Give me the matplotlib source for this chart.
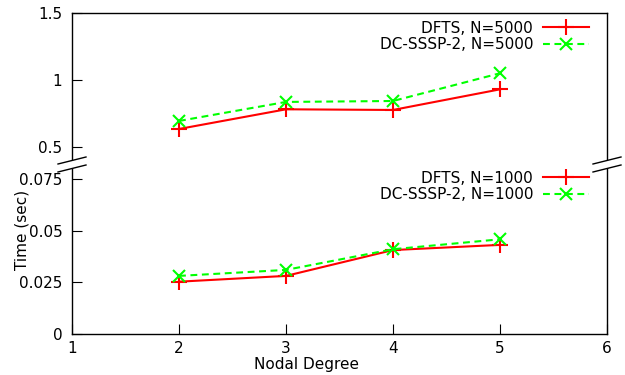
import matplotlib
matplotlib.use("Agg")
import matplotlib.pyplot as plt
from matplotlib.lines import Line2D
from matplotlib.patches import Polygon

plt.rcParams['font.family'] = ['DejaVu Sans']
plt.rcParams['font.size'] = 11

degrees = [2, 3, 4, 5]
dfts_5000 = [0.634, 0.781, 0.776, 0.93]
dcsssp_5000 = [0.694, 0.836, 0.843, 1.05]
dfts_1000 = [0.0253, 0.0281, 0.0406, 0.0431]
dcsssp_1000 = [0.0281, 0.031, 0.041, 0.0458]

x_ticks = [1, 2, 3, 4, 5, 6]
top_yticks = [0.5, 1.0, 1.5]
top_ylabels = ["0.5", "1", "1.5"]
bot_yticks = [0, 0.025, 0.05, 0.075]
bot_ylabels = ["0", "0.025", "0.05", "0.075"]

W, H = 625, 375
fig = plt.figure(figsize=(6.25, 3.75), dpi=100)

def fx(px):
    return px / W

def fy(py):
    return 1 - py / H

L, R = 72, 607
ax_top = fig.add_axes([fx(L), fy(163), fx(R) - fx(L), fy(13) - fy(163)])
ax_bot = fig.add_axes([fx(L), fy(334), fx(R) - fx(L), fy(163) - fy(334)])

red = '#ff0000'
green = '#00ff00'
lw = 1.5
dash = (3.3, 2.2)

def plot_pair(ax, a, b, la, lb):
    ax.plot(degrees, a, color=red, lw=lw, marker='+', ms=11, mew=1.5, label=la)
    ax.plot(degrees, b, color=green, lw=lw, ls=(0, dash), marker='x', ms=9, mew=1.5, label=lb)
    leg = ax.legend(loc='upper right', frameon=False, markerfirst=False,
                    handlelength=3.0, handletextpad=0.65, labelspacing=0.1,
                    borderaxespad=0.0, bbox_to_anchor=(1 - 12 / (R - L), 0.99))
    return leg

plot_pair(ax_top, dfts_5000, dcsssp_5000, 'DFTS, N=5000', 'DC-SSSP-2, N=5000')
plot_pair(ax_bot, dfts_1000, dcsssp_1000, 'DFTS, N=1000', 'DC-SSSP-2, N=1000')

for ax in (ax_top, ax_bot):
    ax.set_xlim(1, 6)
    for s in ax.spines.values():
        s.set_linewidth(1.0)
        s.set_color('black')

ax_top.set_ylim(0.38, 1.5)
ax_top.set_yticks(top_yticks)
ax_top.set_yticklabels(top_ylabels)
ax_top.set_xticks([])
ax_top.spines['bottom'].set_visible(False)
ax_top.tick_params(axis='y', direction='in', length=7, pad=7, right=False)

ax_bot.set_ylim(0, 0.0827)
ax_bot.set_yticks(bot_yticks)
ax_bot.set_yticklabels(bot_ylabels)
ax_bot.set_xticks(x_ticks)
ax_bot.set_xticklabels([str(v) for v in x_ticks])
ax_bot.spines['top'].set_visible(False)
ax_bot.tick_params(axis='y', direction='in', length=7, pad=7, right=False)
ax_bot.tick_params(axis='x', direction='in', length=7, pad=5, top=False)

# axis break marks
for xc in (L, R):
    x0, x1 = xc - 14, xc + 14
    poly = Polygon([(fx(x0), fy(164)), (fx(x1), fy(157)), (fx(x1), fy(165)), (fx(x0), fy(172))],
                   closed=True, transform=fig.transFigure, facecolor='white', edgecolor='none', zorder=10)
    fig.add_artist(poly)
    for (ya, yb) in ((164, 157), (172, 165)):
        fig.add_artist(Line2D([fx(x0), fx(x1)], [fy(ya), fy(yb)], transform=fig.transFigure,
                              color='black', lw=1.0, zorder=11))

fig.text(fx(22), fy(230), 'Time (sec)', rotation=90, ha='center', va='center')
fig.text(fx(307), fy(365), 'Nodal Degree', ha='center', va='center')

fig.savefig('out.png', dpi=100)
